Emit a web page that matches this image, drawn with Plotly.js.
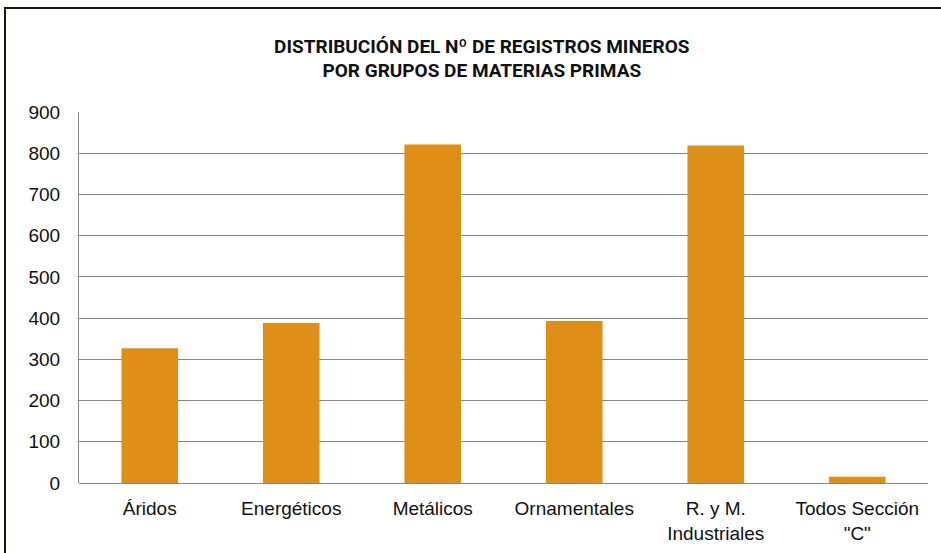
<!DOCTYPE html>
<html>
<head>
<meta charset="utf-8">
<script src="https://cdn.plot.ly/plotly-3.0.1.min.js"></script>
<style>
  html, body { margin: 0; padding: 0; background: #ffffff; }
  #wrap { position: relative; width: 941px; height: 553px; overflow: hidden; }
  #chart { width: 941px; height: 553px; }
  #frame {
    position: absolute; left: 4px; top: 7px; width: 990px; height: 600px;
    border-left: 2px solid #1c1408; border-top: 2px solid #1c1408;
    pointer-events: none;
  }
</style>
</head>
<body>
<div id="wrap">
  <div id="chart"></div>
  <div id="frame"></div>
</div>
<script>
// Grupos de materias primas y número de registros mineros
const categorias = ['Áridos', 'Energéticos', 'Metálicos', 'Ornamentales', 'R. y M.<br>Industriales', 'Todos Sección<br>"C"'];
const registros = [327, 388, 821, 393, 819, 15];
const valoresEje = [0, 100, 200, 300, 400, 500, 600, 700, 800, 900];

const trace = {
  type: 'bar',
  x: categorias,
  y: registros,
  marker: { color: '#DF8E17', line: { width: 0 } },
  hoverinfo: 'x+y'
};

const layout = {
  width: 941,
  height: 553,
  margin: { l: 78.75, r: 13.25, t: 111.7, b: 70 },
  paper_bgcolor: 'rgba(0,0,0,0)',
  plot_bgcolor: '#ffffff',
  bargap: 0.6,
  showlegend: false,
  title: {
    text: '<b>DISTRIBUCIÓN DEL Nº DE REGISTROS MINEROS<br>POR GRUPOS DE MATERIAS PRIMAS</b>',
    font: { family: 'Liberation Sans Narrow, Arial Narrow, Roboto, sans-serif', size: 19, color: '#111111' },
    x: 0.512, xref: 'container', xanchor: 'center',
    y: 0.905, yref: 'container', yanchor: 'middle'
  },
  xaxis: {
    type: 'category',
    showline: false,
    showgrid: false,
    ticks: '',
    tickfont: { family: 'Liberation Sans, Arial, sans-serif', size: 19, color: '#111111' },
    ticklabelstandoff: 12
  },
  yaxis: {
    range: [0, 900],
    tickvals: valoresEje,
    ticktext: valoresEje.map(String),
    showline: true,
    linecolor: '#868686',
    linewidth: 1,
    showgrid: true,
    gridcolor: '#868686',
    gridwidth: 1,
    zeroline: true,
    zerolinecolor: '#868686',
    zerolinewidth: 1,
    ticks: '',
    tickfont: { family: 'Liberation Sans, Arial, sans-serif', size: 19, color: '#111111' },
    ticklabelstandoff: 14
  }
};

Plotly.newPlot('chart', [trace], layout, { displayModeBar: false, staticPlot: true });
</script>
</body>
</html>
